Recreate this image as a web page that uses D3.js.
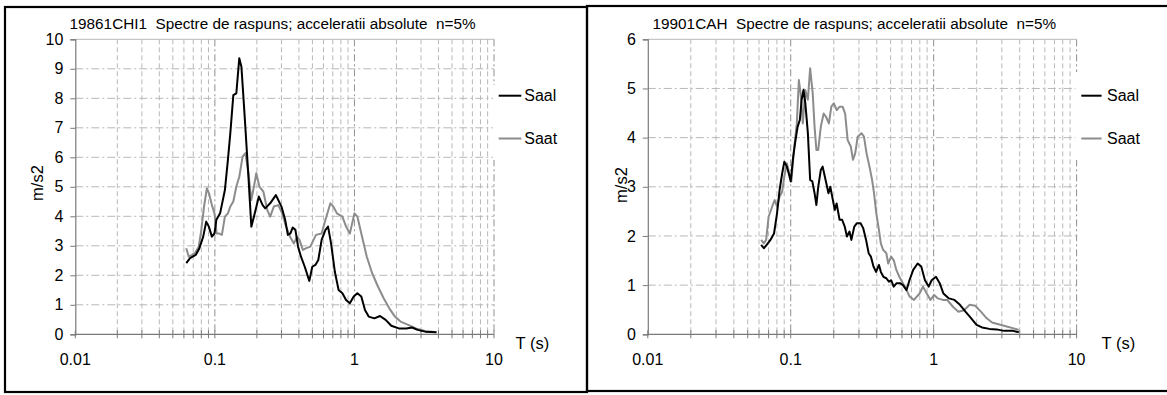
<!DOCTYPE html>
<html>
<head>
<meta charset="utf-8">
<script src="https://cdn.jsdelivr.net/npm/d3@7"></script>
<style>
  html, body { margin: 0; padding: 0; background: #fff; }
  svg { display: block; font-family: "Liberation Sans", Arial, sans-serif; }
  svg text { white-space: pre; }
</style>
</head>
<body>
<svg id="chart" width="1167" height="395"></svg>
<script>
// Response spectra (absolute acceleration, 5% damping), pairs of [T (s), Sa (m/s2)]
const chiTitle = "19861CHI1  Spectre de raspuns; acceleratii absolute  n=5%";
const cahTitle = "19901CAH  Spectre de raspuns; acceleratii absolute  n=5%";
const seriesNames = ["Saal", "Saat"];

const chiSaal = [
  [0.0624,2.41],[0.0664,2.58],[0.0729,2.69],[0.0775,2.92],[0.0825,3.31],[0.0867,3.82],
  [0.0905,3.65],[0.0952,3.31],[0.0994,3.42],[0.1025,3.88],[0.109,4.10],[0.118,4.89],
  [0.124,5.91],[0.129,6.81],[0.1356,8.11],[0.1425,8.17],[0.1496,9.36],[0.155,9.07],
  [0.163,7.49],[0.174,5.34],[0.1825,3.65],[0.1906,3.99],[0.2066,4.67],[0.22,4.38],
  [0.2296,4.27],[0.249,4.44],[0.2734,4.72],[0.30,4.33],[0.319,3.88],[0.3334,3.37],
  [0.348,3.42],[0.361,3.62],[0.3776,3.54],[0.3945,2.97],[0.414,2.63],[0.4406,2.29],
  [0.475,1.81],[0.499,2.29],[0.525,2.35],[0.551,2.52],[0.582,3.20],[0.62,3.54],
  [0.647,3.65],[0.68,3.08],[0.724,2.12],[0.77,1.50],[0.82,1.39],[0.871,1.16],
  [0.927,1.05],[0.988,1.28],[1.05,1.39],[1.12,1.28],[1.19,0.82],[1.265,0.60],
  [1.39,0.54],[1.525,0.62],[1.674,0.49],[1.837,0.29],[2.08,0.20],[2.356,0.20],
  [2.584,0.23],[2.837,0.15],[3.213,0.09],[3.871,0.07]
];
const chiSaat = [
  [0.0624,2.92],[0.065,2.63],[0.0686,2.69],[0.0719,2.75],[0.0766,2.97],[0.08,3.54],
  [0.0836,4.33],[0.0877,4.95],[0.0908,4.78],[0.0952,4.38],[0.0994,4.10],[0.103,3.42],
  [0.107,3.42],[0.1123,3.37],[0.118,3.99],[0.124,4.10],[0.129,4.33],[0.1356,4.50],
  [0.1425,5.01],[0.1496,5.34],[0.158,6.02],[0.1655,6.14],[0.174,5.46],[0.1825,4.55],
  [0.1906,5.01],[0.198,5.46],[0.2085,5.01],[0.2226,4.84],[0.2375,4.21],[0.249,3.99],
  [0.2645,4.33],[0.2845,4.38],[0.3036,4.10],[0.324,3.65],[0.3456,3.31],[0.3683,3.08],
  [0.3887,3.31],[0.404,3.20],[0.427,2.86],[0.4524,2.92],[0.483,2.97],[0.53,3.37],
  [0.582,3.42],[0.62,3.88],[0.6725,4.44],[0.706,4.33],[0.749,4.10],[0.82,3.99],
  [0.871,3.65],[0.927,3.42],[1.0,4.10],[1.05,3.99],[1.12,3.42],[1.226,2.63],
  [1.34,2.07],[1.474,1.62],[1.62,1.22],[1.777,0.88],[1.95,0.60],[2.14,0.43],
  [2.43,0.32],[2.75,0.20],[3.21,0.11],[3.87,0.07]
];
const cahSaal = [
  [0.0621,1.82],[0.0648,1.75],[0.0679,1.82],[0.0721,1.92],[0.0764,2.05],[0.0802,2.46],
  [0.0836,2.94],[0.0871,3.27],[0.0902,3.51],[0.094,3.41],[0.0969,3.27],[0.100,3.11],
  [0.104,3.61],[0.108,3.95],[0.1117,4.22],[0.1158,4.36],[0.1192,4.77],[0.1228,4.97],
  [0.1265,4.70],[0.1318,4.09],[0.1367,3.14],[0.1416,3.11],[0.1468,2.87],[0.1512,2.63],
  [0.1557,3.00],[0.1623,3.34],[0.1672,3.41],[0.1753,3.14],[0.1837,2.87],[0.1892,3.00],
  [0.1972,2.73],[0.2032,2.53],[0.2094,2.66],[0.2196,2.33],[0.2289,2.33],[0.2387,2.19],
  [0.2473,1.99],[0.2577,2.09],[0.2656,1.92],[0.2784,2.19],[0.2904,2.26],[0.3081,2.26],
  [0.3212,2.16],[0.3366,1.92],[0.3508,1.65],[0.3637,1.58],[0.3792,1.38],[0.3953,1.27],
  [0.4143,1.41],[0.4269,1.27],[0.4451,1.17],[0.4664,1.14],[0.4862,1.07],[0.5038,1.10],
  [0.5253,0.97],[0.551,1.04],[0.581,1.04],[0.6095,1.00],[0.646,0.90],[0.6775,1.10],
  [0.719,1.31],[0.7724,1.44],[0.819,1.38],[0.869,1.10],[0.923,0.97],[0.968,1.10],
  [1.038,1.17],[1.102,1.04],[1.17,0.83],[1.279,0.73],[1.398,0.70],[1.527,0.60],
  [1.669,0.46],[1.825,0.33],[1.996,0.19],[2.18,0.14],[2.454,0.11],[2.762,0.10],
  [3.11,0.07],[3.61,0.07],[3.94,0.04]
];
const cahSaat = [
  [0.0621,1.92],[0.0648,1.85],[0.0673,1.92],[0.070,2.39],[0.0742,2.60],[0.0772,2.73],
  [0.0802,2.60],[0.0836,2.80],[0.0871,2.90],[0.0902,3.21],[0.094,3.48],[0.0978,3.27],
  [0.101,3.11],[0.1059,3.82],[0.1103,4.29],[0.114,5.17],[0.1172,4.90],[0.1215,4.29],
  [0.1265,4.97],[0.1318,4.77],[0.1367,5.41],[0.1425,4.90],[0.1468,4.22],[0.1512,3.75],
  [0.1557,3.75],[0.1623,4.22],[0.170,4.49],[0.1762,4.43],[0.185,4.29],[0.1923,4.63],
  [0.2001,4.70],[0.2098,4.56],[0.220,4.63],[0.2306,4.63],[0.2402,4.49],[0.2502,3.95],
  [0.2631,3.82],[0.2726,3.55],[0.2825,3.68],[0.2941,4.02],[0.3122,4.09],[0.3254,4.02],
  [0.3392,3.68],[0.3556,3.41],[0.3708,3.14],[0.3826,2.87],[0.3969,2.46],[0.4143,2.12],
  [0.4269,1.85],[0.4428,1.72],[0.4664,1.65],[0.4805,1.44],[0.5038,1.58],[0.5253,1.51],
  [0.548,1.31],[0.5754,1.17],[0.6095,1.04],[0.646,0.90],[0.6775,0.77],[0.728,0.70],
  [0.797,0.83],[0.843,0.97],[0.895,0.83],[0.95,0.70],[1.008,0.80],[1.07,0.73],
  [1.159,0.70],[1.243,0.70],[1.364,0.56],[1.49,0.46],[1.631,0.49],[1.786,0.60],
  [1.955,0.58],[2.139,0.46],[2.342,0.33],[2.562,0.24],[2.884,0.20],[3.239,0.16],
  [3.632,0.12],[3.94,0.09]
];

const xMajorTicks = [0.01, 0.1, 1, 10];
const xTickLabels = ["0.01", "0.1", "1", "10"];
const chiYTicks = [0,1,2,3,4,5,6,7,8,9,10];
const cahYTicks = [0,1,2,3,4,5,6];

// Layout of the two panels
const panels = [
  { title: chiTitle, saal: chiSaal, saat: chiSaat, yTicks: chiYTicks,
    frame: [5, 7, 582, 385], left: 75.3, right: 494, titleX: 69.6,
    yLabelX: 43, yLabelY: 183, xLabelX: 515.6,
    legend: { x: 493, y: 85, w: 88, h: 75, lineX0: 498.7, lineX1: 521.3, textX: 524.3 } },
  { title: cahTitle, saal: cahSaal, saat: cahSaat, yTicks: cahYTicks,
    frame: [587, 6, 585, 385], left: 647.8, right: 1076.6, titleX: 652.6,
    yLabelX: 627, yLabelY: 185, xLabelX: 1101.6,
    legend: { x: 1075.6, y: 72, w: 88, h: 88, lineX0: 1081.3, lineX1: 1101.6, textX: 1107 } }
];

const TOP = 39.3, BOTTOM = 334.3;
const legendY = [95.7, 138.5];
const seriesColors = { Saal: "#000000", Saat: "#8c8c8c" };
const gridColor = "#b8b8b8";
const axisColor = "#7a7a7a";

const svg = d3.select("#chart");
svg.append("rect").attr("width", 1167).attr("height", 395).attr("fill", "#fff");

// minor ticks 2..9 in each decade
const minorTicks = [];
[0.01, 0.1, 1].forEach(d => { for (let k = 2; k <= 9; k++) minorTicks.push(+(d * k).toPrecision(3)); });

panels.forEach(p => {
  const g = svg.append("g");
  const maxY = p.yTicks[p.yTicks.length - 1];
  const x = d3.scaleLog().domain([0.01, 10]).range([p.left, p.right]);
  const y = d3.scaleLinear().domain([0, maxY]).range([BOTTOM, TOP]);

  // frame
  g.append("rect")
    .attr("x", p.frame[0]).attr("y", p.frame[1])
    .attr("width", p.frame[2]).attr("height", p.frame[3])
    .attr("fill", "none").attr("stroke", "#000").attr("stroke-width", 2.2);

  // vertical grid: minor dashed, major dash-dot
  g.selectAll(".vminor").data(minorTicks).join("line")
    .attr("x1", d => x(d)).attr("x2", d => x(d))
    .attr("y1", TOP).attr("y2", BOTTOM)
    .attr("stroke", gridColor).attr("stroke-width", 1)
    .attr("stroke-dasharray", "5,3");
  g.selectAll(".vmajor").data(xMajorTicks.slice(1)).join("line")
    .attr("x1", d => x(d)).attr("x2", d => x(d))
    .attr("y1", TOP).attr("y2", BOTTOM)
    .attr("stroke", "#8f8f8f").attr("stroke-width", 1)
    .attr("stroke-dasharray", "7,3,2,3");

  // horizontal grid
  g.selectAll(".hgrid").data(p.yTicks.filter(d => d > 0 && d < maxY)).join("line")
    .attr("x1", p.left).attr("x2", p.right)
    .attr("y1", d => y(d)).attr("y2", d => y(d))
    .attr("stroke", gridColor).attr("stroke-width", 1)
    .attr("stroke-dasharray", "8,3,2,3");
  g.append("line")
    .attr("x1", p.left).attr("x2", p.right)
    .attr("y1", y(maxY)).attr("y2", y(maxY))
    .attr("stroke", gridColor).attr("stroke-width", 1);

  // x axis with crossing ticks
  g.append("line")
    .attr("x1", p.left).attr("x2", p.right)
    .attr("y1", BOTTOM).attr("y2", BOTTOM)
    .attr("stroke", axisColor).attr("stroke-width", 1.2);
  g.selectAll(".xtick").data(xMajorTicks.concat(minorTicks)).join("line")
    .attr("x1", d => x(d)).attr("x2", d => x(d))
    .attr("y1", BOTTOM - 4).attr("y2", BOTTOM + 4)
    .attr("stroke", axisColor).attr("stroke-width", 1);
  g.selectAll(".xlabel").data(xMajorTicks).join("text")
    .attr("x", d => x(d)).attr("y", 365)
    .attr("text-anchor", "middle").attr("font-size", 16).attr("fill", "#000")
    .text((d, i) => xTickLabels[i]);

  // y axis
  const yAxis = d3.axisLeft(y).tickValues(p.yTicks).tickSize(5).tickPadding(7).tickFormat(d3.format("d"));
  const ya = g.append("g").attr("transform", `translate(${p.left},0)`).call(yAxis);
  ya.select(".domain").attr("stroke", axisColor).attr("stroke-width", 1.2);
  ya.selectAll(".tick line").attr("stroke", axisColor);
  ya.selectAll(".tick text").attr("font-size", 16).attr("fill", "#000")
    .attr("font-family", "'Liberation Sans', Arial, sans-serif");

  // series
  const line = d3.line().x(d => x(d[0])).y(d => y(d[1]));
  g.append("path").datum(p.saat).attr("d", line)
    .attr("fill", "none").attr("stroke", seriesColors.Saat).attr("stroke-width", 2)
    .attr("stroke-linejoin", "round");
  g.append("path").datum(p.saal).attr("d", line)
    .attr("fill", "none").attr("stroke", seriesColors.Saal).attr("stroke-width", 2)
    .attr("stroke-linejoin", "round");

  // title and axis titles
  g.append("text").attr("x", p.titleX).attr("y", 29)
    .attr("font-size", 15.3).attr("fill", "#000").text(p.title);
  g.append("text")
    .attr("transform", `translate(${p.yLabelX},${p.yLabelY}) rotate(-90)`)
    .attr("text-anchor", "middle").attr("font-size", 16.5).attr("fill", "#000")
    .text("m/s2");
  g.append("text").attr("x", p.xLabelX).attr("y", 349)
    .attr("font-size", 16.5).attr("fill", "#000").text("T (s)");

  // legend
  const L = p.legend;
  g.append("rect").attr("x", L.x).attr("y", L.y).attr("width", L.w).attr("height", L.h)
    .attr("fill", "#fff");
  seriesNames.forEach((name, i) => {
    g.append("line").attr("x1", L.lineX0).attr("x2", L.lineX1)
      .attr("y1", legendY[i]).attr("y2", legendY[i])
      .attr("stroke", seriesColors[name]).attr("stroke-width", 2);
    g.append("text").attr("x", L.textX).attr("y", legendY[i]).attr("dy", "0.35em")
      .attr("font-size", 16).attr("fill", "#000").text(name);
  });
});
</script>
</body>
</html>
